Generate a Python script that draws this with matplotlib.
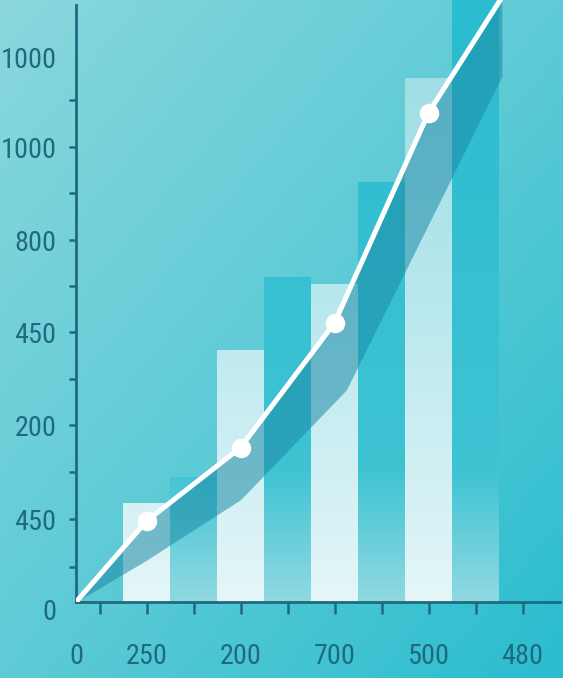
import numpy as np
import matplotlib
matplotlib.use("Agg")
import matplotlib.pyplot as plt
from matplotlib.colors import LinearSegmentedColormap
import matplotlib.transforms as mtransforms
from matplotlib import font_manager as fm
from matplotlib.textpath import TextPath

# ---- data ----
light_x = [1.5, 3.5, 5.5, 7.5]
light_h = [1.06, 2.71, 3.42, 5.63]
dark_x = [2.5, 4.5, 6.5, 8.5]
dark_h = [1.34, 3.49, 4.52, 6.80]
line_x = [0, 1.5, 3.5, 5.5, 7.5, 9.5]
line_y = [0, 0.87, 1.66, 3.00, 5.26, 6.85]
band_x = [0, 1.5, 3.5, 5.75, 9.06]
band_lo = [0, 0.45, 1.10, 2.28, 5.65]
xtick_pos = [0, 1.5, 3.5, 5.5, 7.5, 9.5]
xtick_labels = ["0", "250", "200", "700", "500", "480"]
ytick_pos = [0, 0.89, 1.90, 2.90, 3.89, 4.89, 5.86]
ytick_labels = ["0", "450", "200", "450", "800", "1000", "1000"]

# ---- choose the narrowest plain sans font installed ----
ALLOWED = {"DejaVu Sans", "DejaVu Sans Condensed", "Liberation Sans Narrow",
           "Noto Sans", "Roboto", "Open Sans", "Lato", "Inter",
           "Roboto Condensed", "Open Sans Condensed"}
OKWORDS = {"ExtraCondensed", "Condensed", "SemiCondensed", "Narrow"}

def allowed(name):
    if name in ALLOWED:
        return True
    if name.startswith("Noto Sans"):
        rest = name[len("Noto Sans"):].split()
        return all(w in OKWORDS for w in rest)
    return False

best = None
for f in fm.fontManager.ttflist:
    if f.style != "normal" or f.weight not in (400, "normal", "regular"):
        continue
    if not allowed(f.name):
        continue
    low = f.fname.lower()
    if any(k in low for k in ("bold", "italic", "light", "thin", "black", "medium", "mono", "serif")):
        continue
    try:
        fp = fm.FontProperties(fname=f.fname)
        wb = TextPath((0, 0), "1000", size=1, prop=fp).get_extents()
        hb = TextPath((0, 0), "0", size=1, prop=fp).get_extents()
        ratio = wb.width / hb.height
    except Exception:
        continue
    if best is None or ratio < best[0]:
        best = (ratio, fp, wb.width, hb.height)

if best is None:
    fp = fm.FontProperties(family="DejaVu Sans")
    wb = TextPath((0, 0), "1000", size=1, prop=fp).get_extents()
    hb = TextPath((0, 0), "0", size=1, prop=fp).get_extents()
    best = (wb.width / hb.height, fp, wb.width, hb.height)

_, FP, W1000, H0 = best
fs_px = min(52.0 / W1000, 28.0 / H0)   # target: "1000" ~52px wide, digits <= 28px tall
FS = fs_px * 72 / 100

TXT = "#1f6a7f"
W, H = 563, 678
fig = plt.figure(figsize=(W / 100, H / 100), dpi=100)

# background gradient
bg = fig.add_axes([0, 0, 1, 1], zorder=-5)
bg.set_axis_off()
gx, gy = np.meshgrid(np.linspace(0, 1, 300), np.linspace(0, 1, 300))
t = 0.5 * gy + 0.5 * gx
bg_cmap = LinearSegmentedColormap.from_list("bg", ["#8ad7dd", "#5ecbd6", "#2abdcf"])
bg.imshow(t, cmap=bg_cmap, extent=[0, 1, 0, 1], origin="upper", aspect="auto")
bg.set_xlim(0, 1); bg.set_ylim(0, 1)

ax = fig.add_axes([76 / W, (H - 602) / H, (W - 76) / W, 602 / H])
ax.set_facecolor("none")
XMAX, YMAX = (W - 76) / 47, 602 / 93

light_cmap = LinearSegmentedColormap.from_list("lt", ["#e4f6f8", "#b8e8ee", "#98dbe2"])
dark_cmap = LinearSegmentedColormap.from_list(
    "dk", [(0, "#90d9e1"), (0.22, "#3ec3d3"), (1, "#2bbccf")])
grad = np.linspace(0, 1, 256).reshape(-1, 1)

def grad_bars(xs, hs, cmap, z):
    bars = ax.bar(xs, hs, width=1.0, facecolor="none", edgecolor="none", zorder=z)
    for p in bars.patches:
        im = ax.imshow(grad, cmap=cmap, extent=[0, XMAX, 0, YMAX], origin="lower",
                       aspect="auto", zorder=z)
        im.set_clip_path(p)

grad_bars(light_x, light_h, light_cmap, 2)
grad_bars(dark_x, dark_h, dark_cmap, 2)

# band below the line
xs = np.union1d(band_x, line_x)
xs = xs[xs <= band_x[-1]]
ax.fill_between(xs, np.interp(xs, band_x, band_lo), np.interp(xs, line_x, line_y),
                color="#1b8aa6", alpha=0.55, linewidth=0, zorder=3)

ax.plot(line_x, line_y, color="white", lw=3.6, zorder=4, solid_capstyle="round")
ax.plot(line_x[1:5], line_y[1:5], "o", color="white", ms=13, zorder=5)

ax.set_xlim(0, XMAX)
ax.set_ylim(0, YMAX)

for s in ["top", "right"]:
    ax.spines[s].set_visible(False)
for s in ["left", "bottom"]:
    ax.spines[s].set_color(TXT)
    ax.spines[s].set_linewidth(2.0)
ax.spines["left"].set_bounds(0, 6.42)
ax.spines["bottom"].set_bounds(0, 10.3)

ax.set_xticks(xtick_pos)
ax.set_xticklabels(xtick_labels)
ax.set_xticks([0.5, 2.5, 4.5, 6.5, 8.5], minor=True)
ax.tick_params(axis="x", which="both", length=8.5, width=1.8, color=TXT, pad=21)
ax.xaxis.get_major_ticks()[0].tick1line.set_visible(False)

ax.set_yticks(ytick_pos)
ax.set_yticklabels(ytick_labels)
ax.set_yticks([0.38, 1.40, 2.40, 3.40, 4.40, 5.40], minor=True)
ax.tick_params(axis="y", which="both", length=5, width=1.8, color=TXT, pad=9)
ax.yaxis.get_major_ticks()[-1].tick1line.set_visible(False)
ax.yaxis.get_major_ticks()[0].tick1line.set_visible(False)

for lbl in ax.get_xticklabels() + ax.get_yticklabels():
    lbl.set_fontproperties(FP)
    lbl.set_fontsize(FS)
    lbl.set_color(TXT)

lbl0 = ax.yaxis.get_major_ticks()[0].label1
lbl0.set_transform(lbl0.get_transform() + mtransforms.ScaledTranslation(0, -8 / 100, fig.dpi_scale_trans))

fig.savefig("out.png", dpi=100)
